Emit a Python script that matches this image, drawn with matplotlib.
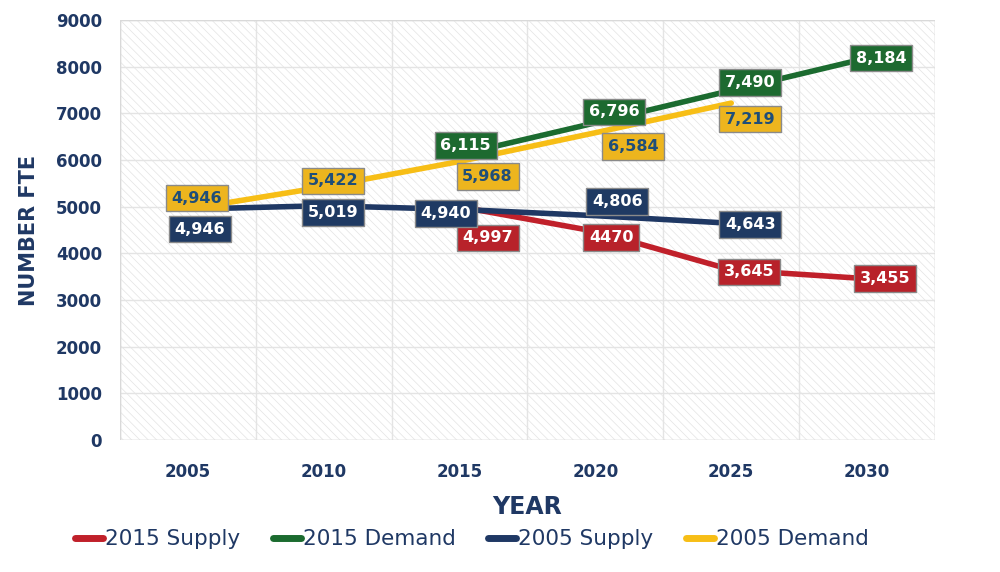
"""
Supply and demand of FTE, 2005 vs 2015 projections.
"""

import matplotlib.pyplot as plt
from matplotlib.patches import Rectangle

NAVY = "#1F3864"

years = ["2005", "2010", "2015", "2020", "2025", "2030"]

supply_2015 = [None, None, 4997, 4470, 3645, 3455]
demand_2015 = [None, None, 6115, 6796, 7490, 8184]
supply_2005 = [4946, 5019, 4940, 4806, 4643, None]
demand_2005 = [4946, 5422, 5968, 6584, 7219, None]

supply_2015_labels = ["", "", "4,997", "4470", "3,645", "3,455"]
demand_2015_labels = ["", "", "6,115", "6,796", "7,490", "8,184"]
supply_2005_labels = ["4,946", "5,019", "4,940", "4,806", "4,643", ""]
demand_2005_labels = ["4,946", "5,422", "5,968", "6,584", "7,219", ""]

series_names = ["2015 Supply", "2015 Demand", "2005 Supply", "2005 Demand"]


def format_plot() -> None:
    plt.rcParams["font.family"] = "DejaVu Sans"
    plt.rcParams["hatch.linewidth"] = 0.5
    plt.rcParams["axes.linewidth"] = 0


format_plot()

fig = plt.figure(figsize=(10, 5.72), dpi=100)
ax = fig.add_axes([0.12, 0.231, 0.815, 0.734])

x = list(range(len(years)))

# hatched plot area background
ax.add_patch(Rectangle((0, 0), 1, 1, transform=ax.transAxes, facecolor="white",
                       edgecolor="#e4e4e4", hatch="\\\\\\\\", lw=0, zorder=0))
ax.add_patch(Rectangle((0, 0), 1, 1, transform=ax.transAxes, facecolor="none",
                       edgecolor="#d9d9d9", lw=1, zorder=1))

# series: values, labels, line colour, box colour, text colour, pixel offsets
series = [
    (demand_2005, demand_2005_labels, "#F7BE16", "#EDB51E", "#1F4E79",
     [(9, 11), (9, 6), (28, -15), (38, -14), (19, -16), (0, 0)]),
    (demand_2015, demand_2015_labels, "#1B6B2F", "#1D6A30", "white",
     [(0, 0), (0, 0), (6, 9), (19, 11), (19, 8), (14, 0)]),
    (supply_2015, supply_2015_labels, "#C0202A", "#B8222A", "white",
     [(0, 0), (0, 0), (28, -31), (16, -6), (18, -2), (18, 0)]),
    (supply_2005, supply_2005_labels, NAVY, "#1F3A63", "white",
     [(12, -20), (9, -7), (-14, -4), (22, 14), (19, -1), (0, 0)]),
]

for vals, labels, lc, fc, tc, offsets in series:
    xs = [i for i, v in zip(x, vals) if v is not None]
    ys = [v for v in vals if v is not None]
    ax.plot(xs, ys, color=lc, lw=4, solid_capstyle="round", zorder=3)

for vals, labels, lc, fc, tc, offsets in series:
    for i, (v, lab, off) in enumerate(zip(vals, labels, offsets)):
        if v is None:
            continue
        ax.annotate(lab, (i, v), xytext=off, textcoords="offset pixels",
                    ha="center", va="center", fontsize=11.5, fontweight="bold",
                    color=tc, zorder=5,
                    bbox=dict(boxstyle="square,pad=0.36", fc=fc,
                              ec="#8a8a8a", lw=1))

# legend handles (order as in the reference)
handle_colors = ["#C0202A", "#1B6B2F", NAVY, "#F7BE16"]
handles = [plt.Line2D([], [], color=c, lw=5, solid_capstyle="round")
           for c in handle_colors]
fig.legend(handles, series_names, loc="center", bbox_to_anchor=(0.472, 0.057),
           ncol=4, frameon=False, fontsize=15.5, handlelength=1.3,
           handletextpad=0.1, columnspacing=1.5, labelcolor=NAVY)

ax.set_xlim(-0.5, 5.5)
ax.set_ylim(0, 9000)
ax.set_xticks(x)
ax.set_xticklabels(years)
ax.set_yticks(range(0, 9001, 1000))
ax.set_xticks([i - 0.5 for i in range(7)], minor=True)
ax.grid(True, which="major", axis="y", color="#e4e4e4", lw=1, zorder=1)
ax.grid(True, which="minor", axis="x", color="#e4e4e4", lw=1, zorder=1)
ax.set_axisbelow(True)
ax.tick_params(which="both", length=0)
ax.tick_params(axis="x", pad=17)
ax.tick_params(axis="y", pad=13)
for t in ax.get_xticklabels() + ax.get_yticklabels():
    t.set_fontweight("bold")
    t.set_color(NAVY)
    t.set_fontsize(12)

ax.set_xlabel("YEAR", fontsize=17, fontweight="bold", color=NAVY, labelpad=10)
ax.set_ylabel("NUMBER FTE", fontsize=15, fontweight="bold", color=NAVY, labelpad=12)

for s in ax.spines.values():
    s.set_visible(False)

plt.savefig("out.png", dpi=100)
